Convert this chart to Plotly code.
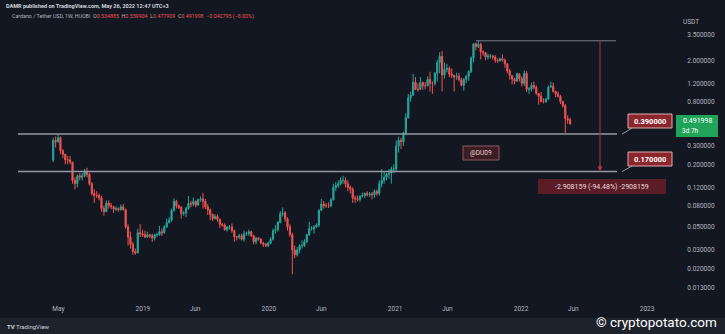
import math
import pandas as pd
import plotly.graph_objects as go

# ---------------- data (weekly ADA/USDT) ----------------
first_open = 0.22
start_week = "2018-04-16"

c18 = [0.34,0.33,0.36,0.27,0.25,0.22,0.22,0.21,0.14,0.13,0.155,0.15,0.155,0.17,0.16,0.13,0.105,0.10,0.10,0.095,
       0.075,0.07,0.085,0.08,0.078,0.074,0.075,0.073,0.078,0.073,0.05,0.04,0.034,0.029,0.028,0.044,0.043,0.042]
h18 = [0.36,0.37,0.39,0.37,0.28,0.25,0.24,0.24,0.21,0.15,0.16,0.165,0.165,0.18,0.185,0.165,0.135,0.115,0.11,0.105,
       0.10,0.08,0.09,0.09,0.085,0.08,0.079,0.077,0.082,0.083,0.075,0.053,0.045,0.036,0.031,0.048,0.053,0.047]
l18 = [0.21,0.29,0.32,0.25,0.23,0.20,0.20,0.20,0.13,0.115,0.12,0.14,0.14,0.15,0.15,0.125,0.10,0.085,0.095,0.09,
       0.07,0.064,0.07,0.075,0.074,0.068,0.071,0.07,0.072,0.072,0.048,0.033,0.031,0.027,0.027,0.028,0.04,0.04]

c19 = [0.040,0.042,0.041,0.039,0.042,0.042,0.045,0.044,0.050,0.055,0.058,0.072,0.088,0.080,0.077,0.067,0.068,0.075,0.084,0.083,
       0.088,0.081,0.091,0.093,0.088,0.078,0.073,0.066,0.060,0.063,0.059,0.053,0.052,0.047,0.050,0.050,0.046,0.040,0.040,0.041,
       0.038,0.043,0.043,0.045,0.041,0.036,0.039,0.038,0.035,0.034,0.033,0.035]
h19 = [0.046,0.045,0.043,0.043,0.043,0.044,0.051,0.048,0.052,0.060,0.062,0.075,0.094,0.091,0.082,0.079,0.071,0.078,0.099,0.089,
       0.096,0.090,0.094,0.098,0.106,0.093,0.083,0.075,0.067,0.066,0.066,0.060,0.055,0.054,0.051,0.052,0.054,0.047,0.041,0.043,
       0.043,0.046,0.045,0.047,0.046,0.042,0.040,0.040,0.039,0.036,0.035,0.036]
l19 = [0.039,0.039,0.039,0.036,0.037,0.040,0.041,0.041,0.043,0.049,0.054,0.056,0.070,0.075,0.074,0.060,0.064,0.062,0.073,0.077,
       0.079,0.077,0.080,0.087,0.075,0.074,0.065,0.058,0.057,0.059,0.056,0.049,0.050,0.046,0.045,0.047,0.044,0.036,0.037,0.038,
       0.037,0.036,0.041,0.041,0.040,0.034,0.034,0.037,0.034,0.032,0.032,0.032]

c20 = [0.038,0.046,0.047,0.055,0.067,0.068,0.060,0.050,0.042,0.030,0.027,0.030,0.033,0.033,0.036,0.042,0.048,0.048,0.050,0.052,
       0.072,0.083,0.080,0.080,0.080,0.091,0.120,0.125,0.130,0.140,0.140,0.130,0.120,0.115,0.095,0.093,0.092,0.099,0.100,0.105,
       0.102,0.104,0.102,0.110,0.105,0.130,0.140,0.150,0.160,0.165,0.180,0.180]
h20 = [0.040,0.048,0.052,0.057,0.071,0.077,0.071,0.062,0.053,0.044,0.033,0.032,0.034,0.037,0.038,0.043,0.056,0.051,0.052,0.054,
       0.074,0.093,0.089,0.085,0.086,0.095,0.130,0.135,0.140,0.150,0.155,0.150,0.140,0.125,0.120,0.100,0.100,0.100,0.107,0.107,
       0.110,0.108,0.108,0.115,0.114,0.140,0.180,0.170,0.165,0.180,0.190,0.200]
l20 = [0.034,0.037,0.043,0.045,0.054,0.063,0.056,0.046,0.040,0.0175,0.025,0.026,0.028,0.031,0.032,0.035,0.041,0.046,0.043,0.049,
       0.050,0.072,0.075,0.076,0.076,0.077,0.090,0.110,0.118,0.125,0.130,0.120,0.110,0.105,0.085,0.085,0.088,0.087,0.096,0.095,
       0.098,0.097,0.092,0.095,0.100,0.100,0.120,0.130,0.140,0.145,0.130,0.165]

c21 = [0.30,0.34,0.33,0.40,0.56,0.87,0.92,1.23,1.05,1.05,1.22,1.14,1.14,1.31,1.20,1.20,1.50,1.90,2.18,1.44,
       1.63,1.67,1.47,1.43,1.38,1.40,1.30,1.15,1.31,1.40,1.56,2.10,2.88,2.72,2.84,2.41,2.36,2.15,2.20,2.20,
       2.15,2.00,1.97,2.07,2.00,1.85,1.58,1.43,1.32,1.26,1.48,1.33]
h21 = [0.34,0.37,0.36,0.41,0.62,0.95,1.00,1.48,1.38,1.20,1.38,1.25,1.23,1.40,1.55,1.25,1.54,2.02,2.39,2.46,
       1.90,1.85,1.75,1.67,1.45,1.52,1.51,1.36,1.35,1.45,1.60,2.18,2.92,2.97,3.10,2.95,2.50,2.40,2.32,2.30,
       2.26,2.24,2.08,2.12,2.28,2.08,1.85,1.65,1.42,1.36,1.52,1.50]
l21 = [0.17,0.26,0.28,0.30,0.38,0.55,0.80,0.95,1.04,1.00,1.04,1.04,1.05,1.12,1.00,0.95,1.14,1.25,1.50,1.00,
       1.33,1.53,1.37,1.35,1.00,1.30,1.25,1.12,1.02,1.21,1.27,1.50,1.90,2.49,2.62,2.04,2.21,2.00,2.03,2.08,
       2.03,1.89,1.88,1.94,1.94,1.70,1.50,1.30,1.17,1.18,1.25,1.25]

c22 = [1.20,1.50,1.05,1.06,1.15,1.10,0.96,0.90,0.80,0.80,0.85,1.10,1.13,1.00,0.95,0.90,0.80,0.73,0.55,0.534885,0.491998]
h22 = [1.40,1.60,1.58,1.10,1.22,1.25,1.15,0.97,0.99,0.86,0.87,1.15,1.25,1.22,1.02,1.00,0.93,0.82,0.76,0.59,0.559904]
l22 = [1.12,1.13,0.99,0.95,1.00,1.05,0.93,0.75,0.79,0.77,0.78,0.83,1.10,0.98,0.88,0.88,0.76,0.70,0.40,0.49,0.477909]

closes = c18 + c19 + c20 + c21 + c22
highs = h18 + h19 + h20 + h21 + h22
lows = l18 + l19 + l20 + l21 + l22
opens = [first_open] + closes[:-1]
dates = pd.date_range(start_week, periods=len(closes), freq="7D")

levels = [0.39, 0.17]
level_text = ["0.390000", "0.170000"]
ath_level = 3.078159
measure_text = "-2.908159 (-94.48%) -2908159"
last_price = "0.491998"
countdown = "3d 7h"

y_tickvals = [3.5, 2.0, 1.2, 0.8, 0.3, 0.2, 0.12, 0.08, 0.05, 0.03, 0.02, 0.013]
y_ticktext = ["%.6f" % v for v in y_tickvals]
x_tickvals = ["2018-05-01", "2019-01-01", "2019-06-01", "2020-01-01", "2020-06-01",
              "2021-01-01", "2021-06-01", "2022-01-01", "2022-06-01", "2023-01-01"]
x_ticktext = ["May", "2019", "Jun", "2020", "Jun", "2021", "Jun", "2022", "Jun", "2023"]

# ---------------- layout helpers ----------------
W, H = 725, 334
ML, MR, MT, MB = 8, 50, 28, 34
PW, PH = W - ML - MR, H - MT - MB
YR = [-2.004, 0.6113]
BG = "#131722"
TXT = "#b2b5be"
FONT = "Roboto"


def px(x):
    return (x - ML) / PW


def py(y):
    return (H - MB - y) / PH


fig = go.Figure()
fig.add_trace(go.Candlestick(
    x=dates, open=opens, high=highs, low=lows, close=closes,
    increasing=dict(line=dict(color="#26a69a", width=1), fillcolor="#26a69a"),
    decreasing=dict(line=dict(color="#ef5350", width=1), fillcolor="#ef5350"),
    whiskerwidth=0, showlegend=False, hoverinfo="skip"))

shapes = []
annotations = []

# bottom strip
shapes.append(dict(type="rect", xref="paper", yref="paper", x0=px(0), x1=px(W), y0=py(H), y1=py(318),
                   fillcolor="#1e222d", line=dict(width=0), layer="below"))

# horizontal levels
for lv in levels:
    shapes.append(dict(type="line", xref="paper", yref="y", x0=px(18), x1=px(617), y0=lv, y1=lv,
                       line=dict(color="#9598a1", width=1.5)))
# ATH line of the measure
shapes.append(dict(type="line", xref="paper", yref="y", x0=px(476), x1=px(616), y0=ath_level, y1=ath_level,
                   line=dict(color="#787b86", width=1)))
# measure vertical
shapes.append(dict(type="line", xref="paper", yref="y", x0=px(600), x1=px(600), y0=ath_level, y1=levels[1],
                   line=dict(color="#a8344a", width=1)))
annotations.append(dict(xref="paper", yref="y", x=px(600), y=math.log10(levels[1]), text="", showarrow=True,
                        ax=0, ay=-9, arrowhead=2, arrowsize=1, arrowwidth=1, arrowcolor="#a8344a"))
# measure label
shapes.append(dict(type="rect", xref="paper", yref="paper", x0=px(538), x1=px(666), y0=py(194), y1=py(179),
                   fillcolor="#5a1d28", line=dict(width=0)))
annotations.append(dict(xref="paper", yref="paper", x=px(602), y=py(186.5), text=measure_text, showarrow=False,
                        font=dict(family=FONT, size=7, color="#f2dada"), xanchor="center", yanchor="middle"))

# callouts for the levels
callout_box_y = [(114, 128), (152, 166)]
for lv, txt, (yt, yb) in zip(levels, level_text, callout_box_y):
    ylv = H - MB - (math.log10(lv) - YR[0]) / (YR[1] - YR[0]) * PH
    shapes.append(dict(type="line", xref="paper", yref="paper", x0=px(622), x1=px(632), y0=py(ylv), y1=py(yb),
                       line=dict(color="#9598a1", width=1)))
    shapes.append(dict(type="rect", xref="paper", yref="paper", x0=px(628), x1=px(672), y0=py(yb), y1=py(yt),
                       fillcolor="#8c262c", line=dict(color="#d8b0b0", width=1)))
    annotations.append(dict(xref="paper", yref="paper", x=px(650), y=py((yt + yb) / 2), text="<b>%s</b>" % txt,
                            showarrow=False, font=dict(family=FONT, size=7.5, color="#ffffff"),
                            xanchor="center", yanchor="middle"))

# @DU09 tag
shapes.append(dict(type="rect", xref="paper", yref="paper", x0=px(463), x1=px(499), y0=py(160), y1=py(146),
                   fillcolor="#3d1d24", line=dict(color="#8a5b62", width=1)))
annotations.append(dict(xref="paper", yref="paper", x=px(481), y=py(153), text="@DU09", showarrow=False,
                        font=dict(family=FONT, size=6.5, color="#e8d2d2"), xanchor="center", yanchor="middle"))

# last price label
shapes.append(dict(type="rect", xref="paper", yref="paper", x0=px(676), x1=px(718), y0=py(137), y1=py(115),
                   fillcolor="#22a35a", line=dict(width=0)))
annotations.append(dict(xref="paper", yref="paper", x=px(697), y=py(121), text=last_price, showarrow=False,
                        font=dict(family=FONT, size=7, color="#ffffff"), xanchor="center", yanchor="middle"))
annotations.append(dict(xref="paper", yref="paper", x=px(690), y=py(131), text=countdown, showarrow=False,
                        font=dict(family=FONT, size=6.5, color="#ffffff"), xanchor="center", yanchor="middle"))

# USDT unit
annotations.append(dict(xref="paper", yref="paper", x=px(691), y=py(22), text="USDT", showarrow=False,
                        font=dict(family=FONT, size=6.5, color=TXT), xanchor="center", yanchor="middle"))

# header
annotations.append(dict(xref="paper", yref="paper", x=px(4), y=py(6),
                        text="<b>DAMR published on TradingView.com, May 26, 2022 12:47 UTC+3</b>", showarrow=False,
                        font=dict(family=FONT, size=5.5, color="#d1d4dc"), xanchor="left", yanchor="middle"))
red = "#ef5350"
hdr = ("Cardano / Tether USD, 1W, HUOBI  O<span style='color:%s'>0.534885</span>  H<span style='color:%s'>0.559904</span>"
       "  L<span style='color:%s'>0.477909</span>  C<span style='color:%s'>0.491998</span>"
       "  <span style='color:%s'>\u22120.042795 (\u22128.00%%)</span>") % (red, red, red, red, red)
annotations.append(dict(xref="paper", yref="paper", x=px(10), y=py(17), text=hdr, showarrow=False,
                        font=dict(family=FONT, size=5.3, color=TXT), xanchor="left", yanchor="middle"))

# footer
annotations.append(dict(xref="paper", yref="paper", x=px(5), y=py(326), text="<b>TV</b> TradingView", showarrow=False,
                        font=dict(family=FONT, size=6, color="#d1d4dc"), xanchor="left", yanchor="middle"))
annotations.append(dict(xref="paper", yref="paper", x=px(719), y=py(322), text="\u00a9 cryptopotato.com",
                        showarrow=False, font=dict(family=FONT, size=13.5, color="#ffffff"),
                        xanchor="right", yanchor="middle"))

fig.update_layout(
    width=W, height=H, margin=dict(l=ML, r=MR, t=MT, b=MB),
    paper_bgcolor=BG, plot_bgcolor=BG,
    font=dict(family=FONT, color=TXT),
    showlegend=False,
    shapes=shapes, annotations=annotations,
    xaxis=dict(type="date", range=["2017-12-06", "2023-03-23"], tickvals=x_tickvals, ticktext=x_ticktext,
               tickfont=dict(family=FONT, size=6.5, color=TXT), showgrid=False, zeroline=False, showline=False,
               ticks="", ticklabelstandoff=3, rangeslider=dict(visible=False), fixedrange=True),
    yaxis=dict(type="log", side="right", range=YR, tickvals=y_tickvals, ticktext=y_ticktext,
               tickfont=dict(family=FONT, size=6.5, color=TXT), showgrid=False, zeroline=False, showline=False,
               ticks="outside", ticklen=10, tickcolor=BG, fixedrange=True),
)

fig.write_html("out.html")
